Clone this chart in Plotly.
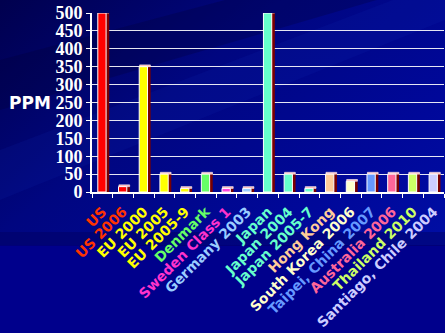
import base64
import plotly.graph_objects as go

# Diesel sulfur limits by market (ppm)
categories = ["US", "US 2006", "EU 2000", "EU 2005", "EU 2005-9", "Denmark",
              "Sweden Class 1", "Germany 2003", "Japan", "Japan 2004",
              "Japan 2005-7", "Hong Kong", "South Korea 2006",
              "Taipei, China 2007", "Australia 2006", "Thailand 2010",
              "Santiago, Chile 2004"]
sulfur_ppm = [500, 15, 350, 50, 10, 50, 10, 10, 500, 50, 10, 50, 30, 50, 50, 50, 50]

bar_colors = ["#ff0000", "#ff0000", "#ffff00", "#ffff00", "#ffff00", "#66ff66",
              "#ff44dd", "#99ccff", "#66ffcc", "#66ffcc", "#66ffcc", "#ffcc99",
              "#ffffcc", "#6699ff", "#ff6699", "#ccff66", "#ccccff"]
label_colors = ["#ff3300", "#ff3300", "#ffff00", "#ffff00", "#ffff00", "#66ff66",
                "#ff33cc", "#99ccff", "#66ffcc", "#66ffcc", "#66ffcc", "#ffcc99",
                "#ffffcc", "#6699ff", "#ff6699", "#ccff66", "#ccccff"]

W, H = 445, 333
ML, MR, MT, MB = 92, 1, 13, 141
CAP = 5  # height of the bar top face, in ppm

tick_text = [f'<span style="color:{c}">{t}</span>' for t, c in zip(categories, label_colors)]

fig = go.Figure()

# right side face of each column
fig.add_trace(go.Bar(x=categories, y=sulfur_ppm, width=0.17, offset=0.16,
                     marker=dict(color="#7a0000", line=dict(width=0)),
                     hoverinfo="skip"))
# top face
fig.add_trace(go.Bar(x=categories, y=[CAP] * len(sulfur_ppm), base=sulfur_ppm,
                     width=0.52, offset=-0.2,
                     marker=dict(color="#ffb0b0", line=dict(color="white", width=0.6)),
                     hoverinfo="skip"))
# front face
fig.add_trace(go.Bar(x=categories, y=sulfur_ppm, width=0.4, offset=-0.22,
                     marker=dict(color=bar_colors, line=dict(color="white", width=1))))

# slide-style blue background
svg = f'''<svg xmlns="http://www.w3.org/2000/svg" width="{W}" height="{H}" viewBox="0 0 {W} {H}">
<defs><linearGradient id="g" x1="0" y1="0" x2="1" y2="0.9">
<stop offset="0" stop-color="#00004e"/>
<stop offset="0.35" stop-color="#000680"/>
<stop offset="0.7" stop-color="#00089a"/>
<stop offset="1" stop-color="#0010a8"/>
</linearGradient></defs>
<rect width="{W}" height="{H}" fill="url(#g)"/>
<polygon points="0,150 445,-20 445,20 0,200" fill="#1030c0" fill-opacity="0.12"/>
<polygon points="0,60 300,-20 445,-20 0,110" fill="#000030" fill-opacity="0.25"/>
<rect y="245" width="445" height="88" fill="#00008c"/>
<rect y="232" width="445" height="14" fill="#000060" fill-opacity="0.45"/>
</svg>'''
src = "data:image/svg+xml;base64," + base64.b64encode(svg.encode()).decode()
pw, ph = W - ML - MR, H - MT - MB

fig.update_layout(
    width=W, height=H,
    margin=dict(l=ML, r=MR, t=MT, b=MB, pad=0),
    paper_bgcolor="#000080",
    plot_bgcolor="rgba(0,0,0,0)",
    barmode="overlay",
    showlegend=False,
    images=[dict(source=src, xref="paper", yref="paper",
                 x=-ML / pw, y=1 + MT / ph, sizex=W / pw, sizey=H / ph,
                 xanchor="left", yanchor="top", sizing="stretch", layer="below")],
    xaxis=dict(tickvals=categories, ticktext=tick_text, tickangle=-45,
               tickson="boundaries", ticks="outside", ticklen=4, tickcolor="white",
               showline=True, linecolor="white", linewidth=2, showgrid=False,
               ticklabelstandoff=4,
               tickfont=dict(family="DejaVu Sans", size=14, color="white", weight="bold"),
               range=[-0.5, len(categories) - 0.5]),
    yaxis=dict(range=[0, 500], dtick=50, ticks="outside", ticklen=4, tickcolor="white",
               showline=True, linecolor="white", linewidth=2,
               showgrid=True, gridcolor="rgba(255,255,255,0.9)", gridwidth=1,
               zeroline=False,
               tickfont=dict(family="Liberation Serif", size=18, color="white", weight="bold")),
    annotations=[dict(text="PPM", xref="paper", yref="paper", x=(30 - ML) / pw, y=0.5,
                      xanchor="center", yanchor="middle", showarrow=False,
                      font=dict(family="DejaVu Sans", size=17, color="white", weight="bold"))],
)
fig.update_traces(cliponaxis=False)

fig.write_html("out.html")
